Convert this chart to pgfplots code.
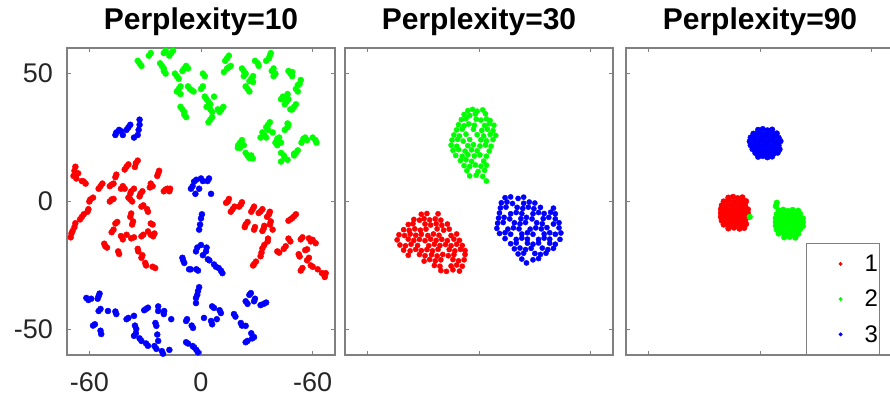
\documentclass[border=0pt]{standalone}
\usepackage{pgfplots}
\pgfplotsset{compat=1.18}
\usepackage{fontspec}
\setmainfont{Liberation Sans}
\definecolor{framegray}{gray}{0.5}
\definecolor{ticktext}{HTML}{262626}
\pgfplotsset{
 tsne/.style={
  scale only axis, width=268pt, height=307pt,
  xmin=-72, xmax=72, ymin=-60, ymax=60,
  xtick={-60,0,60}, ytick={-50,0,50},
  axis line style={draw=framegray, line width=1.1pt},
  tick style={draw=framegray, line width=0.8pt},
  major tick length=4pt, tick align=inside,
  ticklabel style={font=\fontsize{27}{32}\selectfont, text=ticktext},
  xticklabel style={inner sep=0pt, yshift=-17pt},
  yticklabel style={inner sep=0pt, xshift=-14pt},
  title style={at={(0.5,1)}, anchor=base, yshift=13pt, font=\bfseries\fontsize{30}{36}\selectfont},
  /pgf/number format/assume math mode=true,
 },
 pts1/.style={only marks, mark=*, mark size=3pt, mark options={draw=none}},
 pts/.style={only marks, mark=*, mark size=2.6pt, mark options={draw=none}},
 pts3/.style={only marks, mark=*, mark size=2.9pt, mark options={draw=none}},
}
\begin{document}
\begin{tikzpicture}
\useasboundingbox (0pt,0pt) rectangle (890pt,397pt);
% ---------------- Panel 1
\begin{axis}[tsne, at={(67pt,42pt)}, anchor=south west,
  title={Perplexity=10}, xticklabels={-60,0,-60}, yticklabels={-50,0,50}]
\addplot[pts1, color=red] coordinates {
(-67.5,13.6)(-68,12)(-66,11)(-68.5,10)(-67,9)(-63,7.8)(-62,7)(-64,8)
(-54,6)(-55,5)(-53,7)(-48,6.6)(-49,6)(-47,7)(-45.5,10.5)(-46,9.5)
(-40,13.6)(-41,12.5)(-39,14.5)(-35,15)(-35.5,13.5)(-34,16)
(-42,6)(-43,5)(-41,5)(-37.5,4)(-38,3)(-36,5)(-32.5,3)(-33,2)(-31.5,4)
(-23,11)(-23.5,10)(-22.5,12)(-27,7)(-26,6)(-27.5,5.5)
(-19,4.7)(-18,5)(-20,4)(-16.6,5)(-17,4)
(-59.5,0.8)(-58,1.5)(-60,0)(-48,0.8)(-47,1)(-49,0)(-38,0.8)(-37,0)(-39,1.5)
(-32,-2)(-31,-1.5)(-28.5,-4)(-29,-3)
(-60.5,-3)(-61,-4)(-64,-6)(-63,-5)(-65,-7)(-67.5,-8.5)(-68,-10)(-69.6,-12.5)(-69,-11.5)(-70,-14)
(-37.5,-4.7)(-38,-6)(-36.5,-7.8)(-37,-9)
(-46,-8.6)(-45,-8)(-47,-11)(-48,-12)
(-27,-8.6)(-26,-9)(-28.5,-11.7)(-25.7,-13.6)(-25,-12.5)(-27,-13)
(-32,-13.6)(-31,-13)(-37.5,-14.4)(-36,-14)(-42,-14.8)(-43,-13.5)(-40,-13)
(-51.4,-17.5)(-52,-16.5)(-50.5,-18)(-44.5,-19.5)(-44,-20.5)
(-33.7,-19.5)(-34,-18.5)(-32,-22)(-31.5,-21)(-29.5,-25)(-30,-24)(-24.6,-26)(-26,-25.5)
(14.4,0)(15,1)(13.5,-0.5)(17,-3)(18,-2)(16,-4)(21.4,-1.2)(22,-0.3)(20.5,-2)
(27.8,-3)(28.5,-2)(27,-4)(32,-3.9)(33,-3)(31,-4.5)(36.5,-5)(37,-4)(35.5,-6)
(37.5,-7.8)(37,-9)(38.5,-11)(33.7,-10.5)(34,-9.5)(33,-11.5)
(28.5,-11)(29,-10)(24,-9)(25,-8)(23.5,-10)
(48,-7)(49,-6.5)(50,-5.8)(51,-5)(47,-7.5)
(35.8,-15.6)(36,-14.5)(33,-18.3)(34,-17)(32,-21.4)(32.5,-20)(28.5,-24.5)(29.5,-23.5)(28,-25)
(42,-20)(41,-19.5)(45.5,-17.5)(44.5,-18.5)(48,-15.6)(47,-14.5)
(53.6,-14.8)(54.5,-14)(58,-14.4)(59,-15.6)(61.6,-16.3)(60,-15)
(57,-18.7)(56,-19)(52.5,-20.6)(53,-21.5)(58,-22)(57,-23)
(53.6,-27)(54.5,-26)(59,-25)(60,-25.5)(62.7,-26.5)(66,-28.4)(65,-28)(66.5,-29.5)(67,-28)
};
\addplot[pts1, color=green] coordinates {
(-33,54)(-32,53)(-34,55)(-28,57)(-27,58)
(-20,58)(-19,59)(-16,58)(-15,59)(-17,57)
(-21,53)(-20,52)(-22,54)(-20,51)(-19,50)
(-13,49)(-12,48)(-14,50)(-9,52)(-8,53)(-10,51)(-7,52)(1,50)(2,49)
(-12,44)(-11,45)(-13,43)(-11,42)(-5,43.5)(-6,44)(-4,43)(-7,45)(0,44)(1,45)
(3,40)(4,39)(2,41)(5,38)(3,37)(7,41)
(-10,36)(-9,35)(-11,37)(-9,34)(-8,33)
(5,36)(6,35)(4,37)(11,36)(10,35)(12,37)(9,36)(5,32)(6,33)(4,31)
(14,56)(15,57)(13,55)(15,52.5)(16,53)(14,52)(12.3,50.6)
(23,51)(24,50)(22,52)(23,49)(27,48)(26,47)(28,49)(28,46.7)
(25,44)(26,43)(24,45)(30.5,54)(31,53)(29,55)
(36.5,56)(37,57)(35,55)(37.5,58)(39,52)(38,51)(40,50)(39,49)
(48,50)(49,49)(47,51)(49,50.6)(52,45.5)(53,46)(51,44)(52,43)(53.6,47.5)
(45.5,40)(46,39)(44,41)(47,40)(45,38)(43,40)(46.5,42)
(50,37)(49,36)(51,38)(48,36)
(36,30)(37,31)(35,29)(36,28)(38.5,27)(46.5,29)(47,30)(45,28)(46.5,30.5)
(34,26)(33,27)(35,25)(32,25)
(21,23)(22,24)(20,22)(23,22)(21,21)(19.8,21)
(25,18)(26,17)(24,19)(27,18)(27.8,16.8)
(41,24.5)(42,25)(40,23)(41,22)(43,23)
(44.5,18)(45,17)(43,19)(43,15.6)(46.5,16.3)
(51,19)(52,20)(50,18)(50,18.7)
(55,24.5)(56,25)(54,23)(57,24)
(61.5,24)(62,23)(60,25)
};
\addplot[pts1, color=blue] coordinates {
(-45.5,27)(-44,28)(-46,26)(-42,26)(-43,27.5)(-39,29)(-38,30)(-40,28)(-33,32)(-33,30)(-34,26)(-33.5,28)(-36,25)
(-3.7,7.8)(-2.5,8.5)(0,9)(1,8)(4.3,9)(3.5,8)(-5.4,5)(-4.5,6)(-1,5)(5.4,3)(-3,3)
(0,-6.6)(0.5,-5)(-1,-11)(-0.5,-9)(0,-17)(2.7,-19.5)(3,-18)(-2.7,-19.5)(-2,-18)(3.7,-22.6)(4.5,-23)(1,-21)
(-9.6,-23)(-10,-22)(-9,-24)(-6.4,-26.5)(-5.5,-26.5)(-1.6,-27)(-2.5,-26.5)(7,-24.6)(8,-25.5)(10.7,-27)(11.5,-28)(9.5,-26)
(-61.6,-37.7)(-60.5,-38.5)(-59,-38)(-55,-37)(-54.5,-36)(-55.5,-38)(-55,-42.8)(-54,-42)(-50,-42.8)
(-45.5,-44)(-46,-43)(-39,-45.5)(-40,-46)(-36,-44.7)(-29.5,-42)(-30.5,-42.5)(-28.5,-41.5)
(-23,-42.8)(-23,-41)(-19.8,-42.8)(-20,-44)(-16,-46)
(-57,-48)(-58,-48.5)(-53.6,-51.8)(-54,-50.5)(-34.8,-49.8)(-35.5,-48.5)(-36,-52.5)(-35,-51.5)
(-32,-54.5)(-33,-53.5)(-28.5,-56.4)(-29.5,-55.5)(-24,-48.6)(-24.5,-47.5)(-23,-54.5)(-23.5,-52)
(-24,-57.6)(-25,-56.5)(-20.4,-59.5)(-21,-58.5)(-17,-58)
(-1.6,-35)(-1,-33.5)(-2.7,-37.7)(-2,-36.5)(-2.7,-39.7)(-8,-46.7)(-7.5,-46)(-4.3,-49.4)(-5,-48.5)
(-8,-55)(-7,-55.5)(-3.7,-57)(-4.5,-56.5)(-1.6,-59)(-2.5,-58)
(1.6,-45.5)(7,-41.6)(6,-41)(10.7,-43.6)(10,-42.5)(5.4,-46.7)(6,-48)(8.5,-46)
(17.7,-44)(18.5,-45)(21.4,-47.5)(22,-48.5)(24,-48.6)(25,-54.5)(24,-55)(28.5,-53)(27.5,-53.5)(27,-51.5)
(26.8,-35.8)(26,-36.5)(28.5,-39)(29,-38)(33.7,-40)(32,-40.5)(35,-39.5)(24,-39)(25,-40)
};
\end{axis}
% ---------------- Panel 2
\begin{axis}[tsne, at={(345pt,42pt)}, anchor=south west,
  title={Perplexity=30}, xticklabels={}, yticklabels={}]
\addplot[pts, color=red] coordinates {
(-31,-5)(-28,-4.7)(-22,-4.8)
(-35,-7)(-32,-7.3)(-29.5,-6.7)(-26.5,-7.2)(-23.5,-6.8)(-20.5,-7.3)
(-38,-9)(-35.5,-8.7)(-29,-8.8)(-26,-9.2)(-23,-8.7)(-20,-9.3)(-17,-8.8)
(-40.5,-11)(-37.5,-11.3)(-34.5,-10.7)(-31.5,-11.2)(-28.5,-10.8)(-22.5,-10.7)(-19,-11.2)(-16,-10.8)
(-43,-13)(-40,-13.3)(-37,-12.7)(-34,-13.2)(-31,-12.8)(-27.5,-13.3)(-24.5,-12.7)(-21.5,-13.2)(-15,-13.3)(-12,-12.7)
(-44,-15)(-38,-14.7)(-35,-15.2)(-32,-14.8)(-29,-15.3)(-26,-14.7)(-23,-15.2)(-20,-14.8)(-17,-15.3)(-13.5,-14.7)(-10.5,-15.2)
(-42.5,-17)(-39.5,-17.3)(-36.5,-16.7)(-33,-17.2)(-27,-17.3)(-24,-16.7)(-21,-17.2)(-18,-16.8)(-15,-17.3)(-12,-16.7)(-9,-17.2)
(-40.5,-19)(-37,-19.3)(-34,-18.7)(-31,-19.2)(-28,-18.8)(-25,-19.3)(-22,-18.7)(-16,-18.8)(-13,-19.3)(-10,-18.7)(-7.5,-19.2)
(-38,-21)(-32,-20.7)(-29,-21.2)(-25.5,-20.8)(-22.5,-21.3)(-19.5,-20.7)(-16.5,-21.2)(-13.5,-20.8)(-7.5,-20.7)
(-29.5,-23.3)(-26.5,-22.7)(-23.5,-23.2)(-20.5,-22.8)(-14,-22.7)(-11,-23.2)(-8,-22.8)
(-24,-25)(-21,-25.3)(-15,-25.2)(-12,-24.8)(-9,-25.3)
(-20.5,-27)(-17.5,-27.3)(-14,-26.7)(-10.5,-27.2)
};
\addplot[pts, color=green] coordinates {
(-6,35.5)(-3.5,36)(-1,35.3)(2,35.8)
(-8,34)(-5,33.6)(-2,34.2)(3.5,34.3)
(-9.5,32)(-7,32.4)(-1.5,32.2)(1,31.8)(4,32.3)(6,31.6)
(-11,30)(-8,29.6)(-5.5,30.3)(-2.5,29.8)(3,29.7)(5.5,30.4)(8,29.8)
(-12,28)(-9,28.3)(-3,28.2)(1.5,27.8)(4.5,28.3)(7.5,27.7)
(-13.5,26)(-10.5,25.6)(-7,26.3)(-1,26.1)(2.5,25.6)(6,26.2)(9,25.8)
(-14.5,24)(-11.5,24.3)(-8.5,23.6)(-5,24.2)(1,24.1)(4,23.7)(7.5,24.2)
(-15,22)(-12,21.6)(-6,21.8)(-3,22.2)(0.5,21.7)(3.5,22.1)(6.5,21.6)
(-14,20)(-11,20.3)(-7.5,19.7)(-4,20.2)(-1,19.8)(5.5,19.7)
(-12.5,18)(-9,17.7)(-6,18.3)(-2.5,17.8)(0.5,18.2)(4,17.7)
(-10,16)(-7,16.3)(-4,15.7)(2.5,15.8)
(-8,14)(-5,13.7)(-2,14.3)(1,13.8)(4,14.2)
(-6.5,12)(-0.5,11.7)(3,12.2)
(-5,10)(-1.5,10.3)(2,9.8)(4,8)
};
\addplot[pts, color=blue] coordinates {
(14,1.5)(17,1.8)(21,1.2)(24,1.7)
(12,-0.5)(15,-0.2)(18,-0.8)(24,-0.7)(27,-0.2)(30,-0.6)
(11.5,-2.5)(14.5,-2.2)(20.5,-2.3)(23.5,-2.7)(26.5,-2.2)(29.5,-2.8)(33,-2.3)(40,-2.6)
(11,-4.5)(17,-4.8)(20,-4.3)(23,-4.7)(29,-4.8)(32,-4.3)(35,-4.7)(38.5,-4.2)(41,-4.8)
(10.5,-6.5)(13.5,-6.2)(16.5,-6.8)(22.5,-6.7)(25.5,-6.2)(28.5,-6.8)(34.5,-6.7)(37.5,-6.2)(41,-6.8)
(10,-8.5)(13,-8.2)(19,-8.3)(22,-8.7)(25,-8.2)(31,-8.3)(34,-8.7)(40,-8.8)(43,-8.3)
(9.6,-10.5)(15.5,-10.8)(18.5,-10.3)(21.5,-10.7)(27.5,-10.8)(30.5,-10.3)(33.5,-10.7)(36.5,-10.2)(43,-10.3)
(11,-12.5)(14,-12.2)(17,-12.8)(23,-12.7)(26,-12.2)(29,-12.8)(35,-12.7)(38,-12.2)(41,-12.8)(44,-12.3)
(14,-14.5)(20,-14.8)(23,-14.3)(26,-14.7)(32,-14.8)(35,-14.3)(38,-14.7)(43.5,-14.8)
(17,-16.5)(20,-16.2)(26,-16.3)(29,-16.7)(32,-16.2)(38,-16.3)(41,-16.7)
(19,-18.5)(22,-18.2)(25,-18.8)(28,-18.3)(34,-18.2)(37,-18.8)(40,-18.3)
(21,-20.5)(24,-20.2)(30,-20.3)(33,-20.7)(36,-20.2)
(23,-22.5)(29,-22.8)(32,-22.3)(25.5,-24)
};
\end{axis}
% ---------------- Panel 3
\begin{axis}[tsne, at={(626pt,42pt)}, anchor=south west,
  title={Perplexity=90}, xticklabels={}, yticklabels={},
  legend style={at={(0.672,0)}, anchor=south west, draw=framegray, line width=1pt, fill=white,
    font=\fontsize{24}{28}\selectfont, inner xsep=0pt, inner ysep=9pt, row sep=13pt,
    nodes={inner sep=2pt}},
  legend cell align=left,
  legend image code/.code={\path[draw=none,fill=none] (0pt,-5pt) rectangle (56pt,5pt); \draw[#1, mark size=1.4pt] plot coordinates {(34pt,0pt)};}]
\addplot[pts3, color=red] coordinates {
(-17,1.5)(-14.5,1.8)(-12,1.3)(-9.5,1.6)
(-19.5,0)(-17,0.3)(-14.5,-0.2)(-12,0.2)(-9.5,-0.3)(-7.5,0.1)
(-20.5,-1.5)(-18,-1.2)(-15.5,-1.7)(-13,-1.3)(-10.5,-1.7)(-8,-1.4)
(-21,-3)(-18.5,-2.7)(-16,-3.2)(-13.5,-2.8)(-11,-3.2)(-8.5,-2.8)(-6.5,-3.1)
(-21,-4.5)(-18.5,-4.2)(-16,-4.7)(-13.5,-4.3)(-11,-4.7)(-8.5,-4.3)(-6.5,-4.6)
(-21,-6)(-18.5,-5.7)(-16,-6.2)(-13.5,-5.8)(-11,-6.2)(-8.5,-5.8)(-6.5,-6.1)
(-20.5,-7.5)(-18,-7.2)(-15.5,-7.7)(-13,-7.3)(-10.5,-7.7)(-8,-7.3)
(-19.5,-9)(-17,-8.7)(-14.5,-9.2)(-12,-8.8)(-9.5,-9.2)(-7.5,-8.8)
(-17,-10.5)(-14,-10.2)(-11,-10.6)(-8.5,-10.3)
};
\addlegendentry{1}
\addplot[pts3, color=green] coordinates {
(9,-0.5)(8.5,-1.8)
(10,-3.5)(12.5,-3.2)(15,-3.7)(17.5,-3.3)(20.5,-3.6)
(9,-5)(11.5,-4.7)(14,-5.2)(16.5,-4.8)(19,-5.2)(21.5,-4.8)
(8.5,-6.5)(11,-6.2)(13.5,-6.7)(16,-6.3)(18.5,-6.7)(21,-6.3)(23,-6.6)
(8.5,-8)(11,-7.7)(13.5,-8.2)(16,-7.8)(18.5,-8.2)(21,-7.8)(23,-8.1)
(8.5,-9.5)(11,-9.2)(13.5,-9.7)(16,-9.3)(18.5,-9.7)(21,-9.3)(23,-9.6)
(9,-11)(11.5,-10.7)(14,-11.2)(16.5,-10.8)(19,-11.2)(21.5,-10.8)
(10,-12.5)(12.5,-12.2)(15,-12.7)(17.5,-12.3)(20.5,-12.6)
(13,-14)(16,-13.8)(19,-14.1)
(-5.5,-6)
};
\addlegendentry{2}
\addplot[pts3, color=blue] coordinates {
(-1,28)(1.5,28.3)(4,27.8)(6.5,28.1)
(-3.5,26.5)(-1,26.8)(1.5,26.3)(4,26.7)(6.5,26.3)(9,26.6)
(-5,25)(-2.5,25.3)(0,24.8)(2.5,25.2)(5,24.8)(7.5,25.2)(10,24.9)
(-5.5,23.5)(-3,23.8)(-0.5,23.3)(2,23.7)(4.5,23.3)(7,23.7)(9.5,23.3)(11,23.6)
(-5,22)(-2.5,22.3)(0,21.8)(2.5,22.2)(5,21.8)(7.5,22.2)(10,21.9)
(-4,20.5)(-1.5,20.8)(1,20.3)(3.5,20.7)(6,20.3)(8.5,20.7)(10.5,20.4)
(-2.5,19)(0,19.3)(2.5,18.8)(5,19.2)(7.5,18.8)(9.5,19.1)
(-1,17.5)(1.5,17.8)(4,17.3)(6.5,17.6)
};
\addlegendentry{3}
\end{axis}
\end{tikzpicture}
\end{document}
